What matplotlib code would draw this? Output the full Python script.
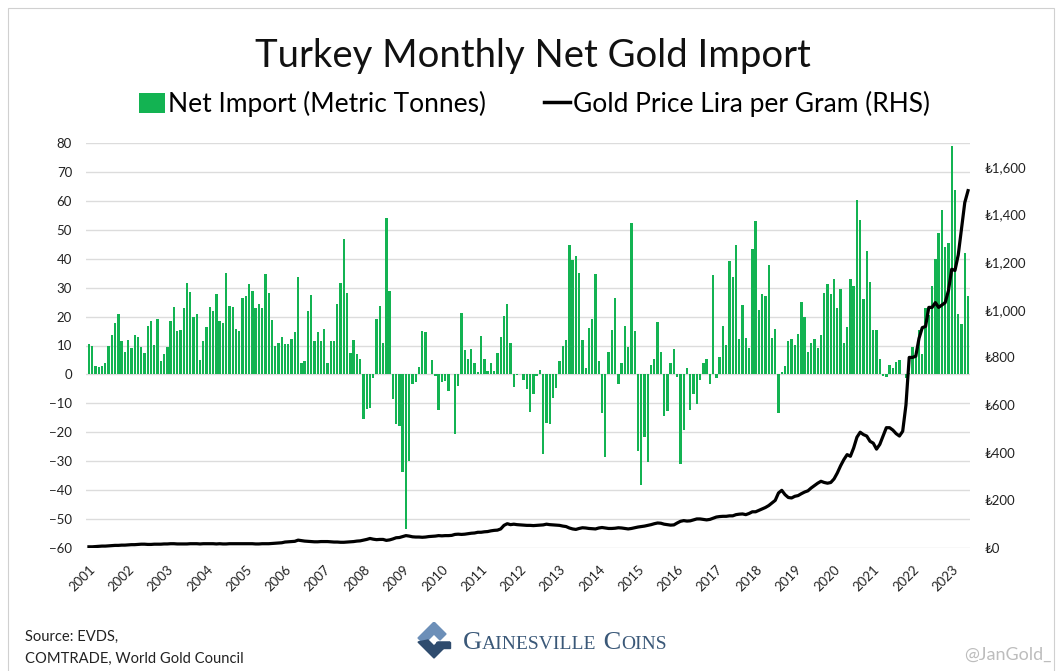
import numpy as np
import matplotlib.pyplot as plt
from matplotlib.patches import Patch, Rectangle, Polygon
from matplotlib.lines import Line2D

plt.rcParams['font.family'] = ['Lato', 'DejaVu Sans']

# Data (monthly, Jan 2001 - Jun 2023)
years = list(range(2001, 2024))

net_import = [
    10.5, 10, 2.9, 2.4, 2.9, 3.9, 10, 13.6, 17.8, 21, 11.4, 7.8,          # 2001
    11.8, 9.2, 13.8, 12.8, 9.4, 7.4, 16.9, 18.5, 10.2, 19.3, 4.6, 7.1,     # 2002
    9.5, 18.4, 23.4, 15, 15.5, 23, 31.7, 28.6, 19.9, 20.8, 5.1, 11.4,      # 2003
    16.4, 23.3, 21.8, 27.9, 18.6, 17.8, 35, 23.6, 23.4, 15.7, 15, 26.4,    # 2004
    27.2, 31.1, 28.9, 23.1, 24.4, 23, 34.8, 28, 18.7, 10, 10.8, 12.8,      # 2005
    10.5, 10.5, 12.1, 14.6, 33.6, 3.8, 4.6, 22, 27.5, 11.4, 14.6, 11.7,    # 2006
    15.7, 4.1, 11.7, 11.5, 24.3, 31.6, 46.8, 28.2, 7.5, 11.8, 6.9, 5.3,    # 2007
    -15.5, -12.1, -11.7, -1.4, 19, 23.6, 10.7, 54, 28.9, -8.6, -17.1, -17.7,  # 2008
    -33.9, -53.4, -29.8, -3.4, -2.5, 2.5, 15, 14.7, 0.3, 5, -0.6, -12.3,   # 2009
    -2.5, -2.2, -5.9, 0.3, -20.7, -4, 21.3, 8.5, 5.5, 8.9, 3.8, 0.9,       # 2010
    13.3, 5.3, 1.3, 4.1, 1.1, 7.5, 13.1, 20.3, 24.5, 11, -4.3, -0.2,       # 2011
    0.2, -1.8, -5.1, -12.9, -6.8, -0.5, 1.7, -27.5, -16.9, -17.2, -8, -4.8,  # 2012
    4.6, 9.9, 11.8, 44.9, 39.4, 41.1, 35.2, 12, 2.2, 16.2, 19, 34.6,       # 2013
    4.7, -13.4, -28.7, 7.8, 15.5, 26.4, -3.4, 3.8, 16.7, 9.5, 52.4, 15,    # 2014
    -26.4, -38.2, -21.5, -30.3, 3.2, 5.5, 18.2, 7.8, -14.3, -12.6, 4.1, 8.9,  # 2015
    -0.9, -31, -19.2, 2.1, -12.3, -6.6, -10.3, -1.8, 4.1, 5.5, -3.4, 34.5,  # 2016
    -1.1, 6.1, 16.8, 10.3, 39.1, 33.6, 44.8, 12.2, 23.9, 12.6, 9.3, 43.4,  # 2017
    53.2, 22.2, 27.9, 27, 37.9, 12.6, 15.6, -13.2, 0.9, 2.9, 11.6, 12.3,   # 2018
    10.3, 14.1, 25.1, 19.9, 7.8, 10.7, 12.1, 9.3, 13.6, 28.3, 31.4, 27.9,  # 2019
    32.9, 23.1, 29.5, 10.9, 16.3, 32.9, 30.5, 60.3, 53.4, 26.2, 42.6, 32,  # 2020
    15.5, 15.5, 5.5, -0.5, -1, 3.2, 2.3, 4.4, 4.9, 0.3, -1.4, 0.5,         # 2021
    9.5, 6.1, 15.3, 7.2, 22.8, 20.7, 30.7, 40, 49, 56.9, 44, 45.5,         # 2022
    78.9, 63.9, 21, 17.5, 42, 27,                                          # 2023
]

gold_price = [
    5, 5, 6, 7, 8, 8, 9, 10, 11, 11, 12, 12,
    13, 14, 14, 15, 16, 16, 15, 15, 16, 16, 16, 17,
    17, 18, 18, 17, 17, 17, 17, 18, 18, 18, 17, 18,
    18, 18, 18, 17, 18, 17, 17, 18, 18, 18, 18, 18,
    18, 18, 18, 17, 17, 18, 18, 18, 19, 20, 21, 22,
    25, 26, 27, 28, 33, 31, 29, 28, 27, 26, 26, 27,
    27, 27, 26, 25, 25, 24, 24, 25, 26, 27, 29, 30,
    33, 36, 40, 37, 35, 36, 36, 32, 34, 38, 43, 44,
    48, 52, 50, 47, 46, 46, 45, 46, 48, 49, 50, 52,
    51, 52, 52, 53, 57, 58, 57, 58, 60, 62, 63, 66,
    66, 68, 69, 72, 74, 75, 80, 95, 102, 98, 100, 98,
    97, 96, 95, 95, 94, 95, 96, 97, 100, 98, 97, 96,
    95, 92, 90, 84, 80, 78, 82, 85, 84, 82, 81, 80,
    84, 86, 84, 82, 82, 83, 85, 84, 82, 80, 82, 85,
    88, 90, 92, 95, 98, 102, 105, 104, 100, 98, 96, 97,
    105, 112, 115, 113, 114, 118, 122, 122, 120, 118, 120, 125,
    130, 132, 133, 133, 135, 135, 140, 142, 143, 140, 145, 152,
    152, 158, 164, 170, 178, 189, 200, 231, 242, 224, 212, 210,
    217, 220, 228, 235, 240, 252, 262, 272, 280, 275, 272, 275,
    290, 315, 345, 371, 392, 385, 420, 465, 486, 476, 470, 448,
    440, 415, 435, 470, 505, 505, 495, 480, 470, 490, 600, 800,
    800, 805, 880, 925, 930, 1010, 1010, 1030, 1010, 1020, 1030, 1080,
    1170, 1165, 1230, 1340, 1450, 1500,
]

left_ticks = list(range(-60, 81, 10))
right_ticks = list(range(0, 1601, 200))

W, H = 1062, 671
months = np.arange(len(net_import))

fig = plt.figure(figsize=(W / 100, H / 100), dpi=100)
fig.patch.set_facecolor('white')

ax = fig.add_axes([86 / W, 1 - 548 / H, (970 - 86) / W, (548 - 143) / H])
ax.bar(months, net_import, width=0.72, color='#13b352', zorder=2)
ax.set_ylim(-60, 80)
ax.set_yticks(left_ticks)
ax.set_xlim(-0.9, 269.6)
ax.set_xticks([12 * k for k in range(len(years))])
ax.set_xticklabels(years, rotation=45, ha='right', rotation_mode='anchor')
ax.grid(axis='y', color='#dcdcdc', lw=1.0, zorder=0)
ax.set_axisbelow(True)
for s in ax.spines.values():
    s.set_visible(False)
ax.tick_params(axis='y', length=0, labelsize=9.5, colors='#222222', pad=10)
ax.tick_params(axis='x', length=0, labelsize=9.5, colors='#222222', pad=11)

ax2 = ax.twinx()
ax2.plot(months, gold_price, color='black', lw=2.3, zorder=3)
ax2.set_ylim(0, 1700)
ax2.set_yticks(right_ticks)
ax2.set_yticklabels([f'₺{v:,}' for v in right_ticks])
for s in ax2.spines.values():
    s.set_visible(False)
ax2.tick_params(axis='y', length=0, labelsize=9.5, colors='#222222', pad=10)

# title + legend
fig.text(0.502, 1 - 56 / H, 'Turkey Monthly Net Gold Import', ha='center', va='center',
         fontsize=27.5, color='#111111')
handles = [Patch(facecolor='#13b352', edgecolor='none', label='Net Import (Metric Tonnes)'),
           Line2D([0], [0], color='black', lw=2.5, label='Gold Price Lira per Gram (RHS)')]
fig.legend(handles=handles, loc='center', bbox_to_anchor=(0.503, 1 - 104 / H), ncol=2,
           frameon=False, fontsize=19, handlelength=1.0, handleheight=0.8,
           handletextpad=0.1, columnspacing=2.2)

# footer
fig.text(25 / W, 1 - 637 / H, 'Source: EVDS,', ha='left', va='center', fontsize=10.6, color='#222222')
fig.text(25 / W, 1 - 659 / H, 'COMTRADE, World Gold Council', ha='left', va='center',
         fontsize=10.6, color='#222222')
fig.text(1052 / W, 1 - 655 / H, '@JanGold_', ha='right', va='center', fontsize=13, color='#bdbdbd')

# logo
logo = fig.add_axes([414 / W, 1 - 662 / H, 40 / W, 40 / H])
logo.set_xlim(0, 40)
logo.set_ylim(0, 40)
logo.axis('off')
logo.add_patch(Polygon([(20, 40), (4, 24), (10, 18), (20, 28), (26, 22), (32, 28)],
                       closed=True, color='#6c8fb8'))
logo.add_patch(Polygon([(4, 20), (20, 4), (36, 20), (24, 20), (20, 16), (14, 22)],
                       closed=True, color='#2f4c6e'))
logo.add_patch(Polygon([(22, 20), (36, 20), (36, 14), (28, 14)], closed=True, color='#2f4c6e'))

fig.canvas.draw()
renderer = fig.canvas.get_renderer()
x0 = 463
logo_color = '#3a5878'
for part, size in [('G', 19), ('AINESVILLE', 14), (' C', 19), ('OINS', 14)]:
    t = fig.text(x0 / W, 1 - 649 / H, part, ha='left', va='baseline', fontsize=size,
                 color=logo_color, family='Liberation Serif')
    bb = t.get_window_extent(renderer)
    x0 += bb.width

fig.add_artist(Rectangle((8 / W, -0.05), (1054 - 8) / W, (671 - 8) / H + 0.05,
                         transform=fig.transFigure, fill=False, edgecolor='#d0d0d0', lw=0.8))

fig.savefig('out.png', dpi=100)
